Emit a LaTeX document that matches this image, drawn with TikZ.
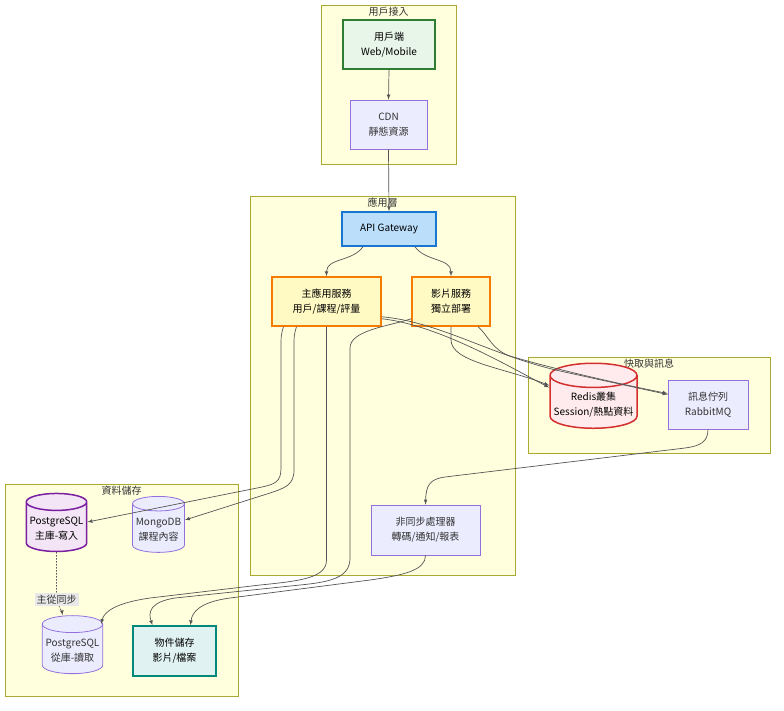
\documentclass[tikz,border=0pt]{standalone}
\usepackage{fontspec}
\setmainfont{Noto Sans CJK TC}
\usepackage{tikz}
\usetikzlibrary{arrows,positioning}
\usetikzlibrary{shapes.geometric}
\definecolor{clusterfill}{HTML}{FFFFDE}
\definecolor{clusterline}{HTML}{AAAA33}
\definecolor{deffill}{HTML}{ECECFF}
\definecolor{defline}{HTML}{9370DB}
\definecolor{userfill}{HTML}{E8F5E9}
\definecolor{userline}{HTML}{2E7D32}
\definecolor{apifill}{HTML}{BBDEFB}
\definecolor{apiline}{HTML}{1976D2}
\definecolor{svcfill}{HTML}{FFF9C4}
\definecolor{svcline}{HTML}{F57C00}
\definecolor{redisfill}{HTML}{FFEBEE}
\definecolor{redisline}{HTML}{D32F2F}
\definecolor{pgfill}{HTML}{F3E5F5}
\definecolor{pgline}{HTML}{7B1FA2}
\definecolor{objfill}{HTML}{E0F2F1}
\definecolor{objline}{HTML}{00897B}
\definecolor{txt}{HTML}{333333}
\definecolor{edgeline}{HTML}{555555}
\definecolor{labelfill}{HTML}{E8E8E8}
\tikzstyle{cluster} = [rectangle, draw=clusterline, fill=clusterfill, line width=0.8pt]
\tikzstyle{clustertitle} = [anchor=north, inner sep=2.5pt, text=txt]
\tikzstyle{boxy} = [rectangle, align=center, text=txt, draw=defline, fill=deffill, line width=0.8pt]
\tikzstyle{boxybold} = [rectangle, align=center, text=black, line width=1.5pt]
\tikzstyle{dbase} = [cylinder, shape border rotate=90, aspect=0.28, align=center, text=txt,
draw=defline, fill=deffill, line width=0.8pt]
\tikzstyle{arrow} = [draw=edgeline, line width=0.7pt, ->, >=latex]
\tikzstyle{arrowdotted} = [draw=edgeline, line width=0.7pt, dash pattern=on 1.5pt off 1.5pt, ->, >=latex]
\tikzstyle{edgelabel} = [fill=labelfill, inner sep=2pt, text=txt]
\begin{document}
\begin{tikzpicture}[x=1pt, y=-1pt, font=\fontsize{10}{15}\selectfont]
        \useasboundingbox [fill=white] (0,0) rectangle (784,710);
        % clusters
        \node (gaccess) [cluster, minimum width=135pt, minimum height=159pt] at (388.5,84.5) {};
        \node [clustertitle] at (gaccess.north) {用戶接入};
        \node (gapp) [cluster, minimum width=265pt, minimum height=379pt] at (382.5,385.5) {};
        \node [clustertitle] at (gapp.north) {應用層};
        \node (gcache) [cluster, minimum width=242pt, minimum height=96pt] at (649,405) {};
        \node [clustertitle] at (gcache.north) {快取與訊息};
        \node (gdata) [cluster, minimum width=233pt, minimum height=212pt] at (121.5,590) {};
        \node [clustertitle] at (gdata.north) {資料儲存};
        %
        \node (user) [boxybold, draw=userline, fill=userfill, minimum width=92pt, minimum height=49pt] at (389,44.5) {用戶端\\Web/Mobile};
        \node (cdn) [boxy, minimum width=77pt, minimum height=49pt] at (388.5,124.5) {CDN\\靜態資源};
        \node (api) [boxybold, draw=apiline, fill=apifill, minimum width=94pt, minimum height=34pt] at (389,229) {API Gateway};
        \node (main) [boxybold, draw=svcline, fill=svcfill, minimum width=109pt, minimum height=49pt] at (326.5,301.5) {主應用服務\\用戶/課程/評量};
        \node (video) [boxybold, draw=svcline, fill=svcfill, minimum width=78pt, minimum height=49pt] at (451,301.5) {影片服務\\獨立部署};
        \node (redis) [dbase, text=black, draw=redisline, fill=redisfill, line width=1.5pt, minimum width=87pt, minimum height=65pt] at (593.5,404.5) {Redis叢集\\Session/熱點資料};
        \node (mq) [boxy, minimum width=80pt, minimum height=49pt] at (708,404.5) {訊息佇列\\RabbitMQ};
        \node (pgm) [dbase, text=black, draw=pgline, fill=pgfill, line width=1.5pt, minimum width=59pt, minimum height=58pt] at (56.5,529) {PostgreSQL\\主庫-寫入};
        \node (mongo) [dbase, minimum width=49pt, minimum height=56pt] at (158.5,530) {MongoDB\\課程內容};
        \node (async) [boxy, minimum width=109pt, minimum height=50pt] at (425.5,530) {非同步處理器\\轉碼/通知/報表};
        \node (pgs) [dbase, minimum width=59pt, minimum height=58pt] at (72.5,651) {PostgreSQL\\從庫-讀取};
        \node (obj) [boxybold, draw=objline, fill=objfill, minimum width=83pt, minimum height=50pt] at (174.5,651) {物件儲存\\影片/檔案};
        %
        \draw [arrow] (user.south) -- (cdn.north);
        \draw [arrow] (cdn.south) -- (api.north);
        \draw [arrow] ([xshift=-26pt]api.south) to[out=-125,in=90] (main.north);
        \draw [arrow] ([xshift=26pt]api.south) to[out=-55,in=90] (video.north);
        \draw [arrow] ([xshift=-43pt]main.south) .. controls (281,335) .. (281,350) -- (281,468)
        .. controls (281,482) and (275,484) .. (262,487) -- ([yshift=7pt]pgm.east);
        \draw [arrow] ([xshift=-30pt]main.south) .. controls (294,335) .. (294,350) -- (294,470)
        .. controls (294,485) and (285,488) .. (270,493) -- ([yshift=10pt]mongo.east);
        \draw [arrow] (main.south) -- (326.5,560) .. controls (326.5,578) and (300,581) .. (260,585)
        -- (150,598) .. controls (115,603) and (104,612) .. ([xshift=-2pt,yshift=27pt]pgs.east);
        \draw [arrow] ([yshift=8pt]video.south west) .. controls (390,326) and (350,330) .. (350,348)
        -- (350,558) .. controls (350,578) and (330,582) .. (300,585) -- (175,598)
        .. controls (150,602) and (148,612) .. ([xshift=-22pt]obj.north);
        \draw [arrow] ([yshift=8pt]main.south east) .. controls (440,325) and (515,370) .. ([yshift=17pt]redis.west);
        \draw [arrow] ([yshift=10pt]main.south east) .. controls (440,322) and (490,355) .. (560,371)
        -- ([yshift=10pt]mq.west);
        \draw [arrow] (video.south) -- (451,340) .. controls (451,362) and (505,368) .. ([yshift=19pt]redis.west);
        \draw [arrow] ([xshift=27pt]video.south) .. controls (488,335) and (492,350) .. (510,356)
        .. controls (540,365) and (600,380) .. ([yshift=11pt]mq.west);
        \draw [arrow] (mq.south) .. controls (708,442) and (700,446) .. (685,448) -- (445,477)
        .. controls (430,479) and (426,485) .. (async.north);
        \draw [arrow] (async.south) .. controls (425.5,570) and (405,575) .. (370,580) -- (230,598)
        .. controls (200,602) and (192,612) .. ([xshift=16pt]obj.north);
        \draw [arrowdotted] (pgm.south) -- (56.5,590) .. controls (57,606) and (62,612) .. ([xshift=-10pt]pgs.north);
        \node (sync) [edgelabel] at (56.5,599.5) {主從同步};
\end{tikzpicture}
\end{document}
